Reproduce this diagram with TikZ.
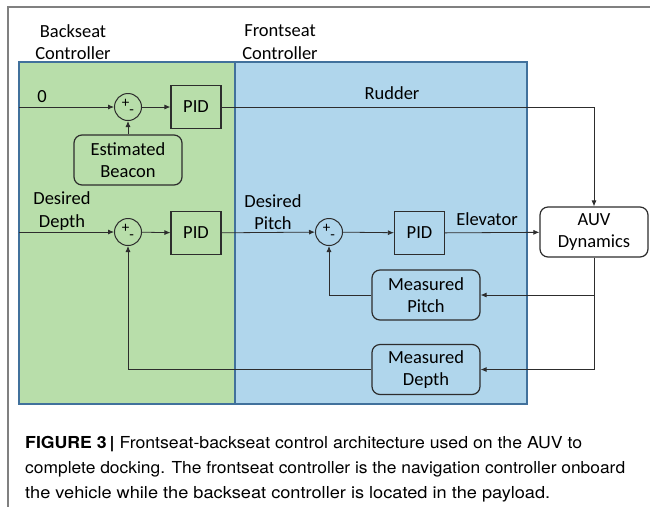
\documentclass[tikz,border=0pt]{standalone}
\usepackage{fontspec}
\setmainfont{Carlito}
\newfontfamily\capfont{TeX Gyre Heros}
\usetikzlibrary{arrows.meta}
\definecolor{backgreen}{RGB}{184,222,170}
\definecolor{frontblue}{RGB}{176,214,236}
\definecolor{edgeblue}{RGB}{65,113,156}
\definecolor{framegray}{RGB}{128,128,128}
\definecolor{linegray}{RGB}{45,45,45}
\tikzset{
  block/.style={draw=linegray, line width=1.2pt, minimum width=50pt, minimum height=43pt, inner sep=0pt},
  roundbox/.style={draw=linegray, line width=1.2pt, rounded corners=8pt, minimum width=108pt, minimum height=50pt, inner sep=0pt, align=center},
  sumnode/.style={circle, draw=linegray, line width=1pt, minimum size=27pt, inner sep=0pt},
  tag/.style={align=center},
  capline/.style={anchor=base west, inner sep=0pt, font=\capfont\fontsize{16.5}{20}\selectfont},
}
\newcommand{\plusminus}{{\fontsize{15}{15}\selectfont +\raisebox{-7pt}{-}\hspace{12pt}}}
\begin{document}
\begin{tikzpicture}[x=1pt,y=-1pt,>={Latex[length=6pt,width=5pt]},
    every node/.style={font=\fontsize{18.5}{22.5}\selectfont}]
    \useasboundingbox (0,0) rectangle (650,507);
    \draw[framegray, line width=2pt] (650,7) -- (8,7) -- (8,507);

    % controller regions
    \fill[backgreen] (19,62) rectangle (235,404);
    \fill[frontblue] (235,62) rectangle (527,404);
    \draw[edgeblue, line width=1.5pt] (19,62) rectangle (527,404);
    \draw[edgeblue, line width=1.5pt] (235,62) -- (235,404);

    \node[tag] (backlbl) at (73,42) {Backseat\\Controller};
    \node[tag] (frontlbl) at (280,42) {Frontseat\\Controller};

    \begin{scope}
        \node[sumnode] (sum1) at (128,107) {\plusminus};
        \node[block] (pid1) at (196,107) {PID};
        \node[roundbox] (beacon) at (128,160) {Estimated\\Beacon};
        \node[sumnode] (sum2) at (128,232) {\plusminus};
        \node[block] (pid2) at (196,233) {PID};
        \node[sumnode] (sum3) at (329,232) {\plusminus};
        \node[block] (pid3) at (419.5,233) {PID};
        \node[roundbox, fill=white] (auv) at (594,232) {AUV\\Dynamics};
        \node[roundbox] (mpitch) at (426,295) {Measured\\Pitch};
        \node[roundbox] (mdepth) at (426,369.5) {Measured\\Depth};
        \coordinate (in0) at (19,107);
        \coordinate (indepth) at (19,232);
    \end{scope}

    \node[tag] (zerolbl) at (42,97) {0};
    \node[tag] (depthlbl) at (62,211) {Desired\\Depth};
    \node[tag] (pitchlbl) at (273,212) {Desired\\Pitch};
    \node[tag] (rudderlbl) at (392,93) {Rudder};
    \node[tag] (elevlbl) at (487,219) {Elevator};

    \begin{scope}[draw=linegray, line width=0.8pt]
        \path [->] (in0) edge (sum1);
        \path [->] (sum1) edge (pid1);
        \path [->] (beacon) edge (sum1);
        \draw [->] (pid1) -| (auv);
        \path [->] (indepth) edge (sum2);
        \path [->] (sum2) edge (pid2);
        \path [->] (pid2) edge (sum3);
        \path [->] (sum3) edge (pid3);
        \path [->] (pid3) edge (auv);
        \draw [->] (auv) |- (mpitch);
        \draw [->] (auv) |- (mdepth);
        \draw [->] (mpitch) -| (sum3);
        \draw [->] (mdepth) -| (sum2);
    \end{scope}

    % caption
    \node[capline] (cap1) at (25,448) {\resizebox{557pt}{\height}{{\bfseries FIGURE 3\,|} Frontseat-backseat control architecture used on the AUV to}};
    \node[capline] (cap2) at (25,473) {\resizebox{600pt}{\height}{complete docking. The frontseat controller is the navigation controller onboard}};
    \node[capline] (cap3) at (25,498) {\resizebox{525pt}{\height}{the vehicle while the backseat controller is located in the payload.}};
\end{tikzpicture}
\end{document}
